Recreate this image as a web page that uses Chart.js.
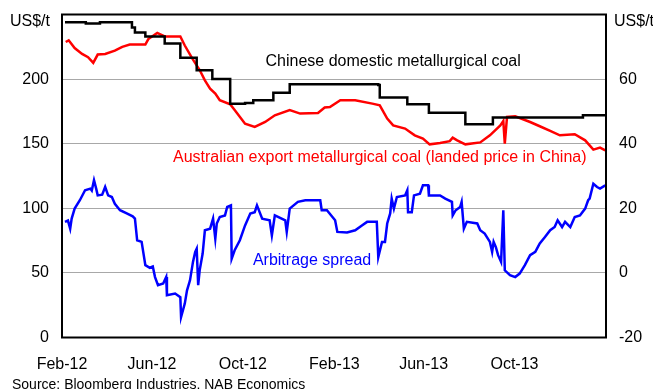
<!DOCTYPE html>
<html>
<head>
<meta charset="utf-8">
<script src="https://cdn.jsdelivr.net/npm/chart.js@4/dist/chart.umd.min.js"></script>
<style>
  html, body { margin: 0; padding: 0; background: #fff; }
  #wrap { width: 653px; height: 389px; }
</style>
</head>
<body>
<div id="wrap"><canvas id="c" width="653" height="389"></canvas></div>
<script>
// x values are days counted from 1 Feb 2012
const tickDays   = [0, 121, 243, 366, 486, 608];
const tickLabels = ['Feb-12', 'Jun-12', 'Oct-12', 'Feb-13', 'Jun-13', 'Oct-13'];

// Chinese domestic metallurgical coal, US$/t (left axis)
const chinaDays  = [4, 32, 51, 89, 94, 98, 112, 138, 159, 181, 202, 226, 246, 257, 284, 306, 425, 427, 464, 493, 542, 579, 700, 731];
const chinaPrice = [244, 243, 244, 244, 240, 236, 233, 227.5, 216.6, 206.8, 200, 181, 181.5, 183.6, 189.5, 196, 195.5, 185.7, 180.5, 174, 165, 170.3, 172, 172];

// Australian export metallurgical coal, landed price in China, US$/t (left axis)
const ausDays  = [5, 9, 17, 27, 35, 42, 48, 58, 71, 81, 91, 112, 116, 128, 138, 159, 165, 175, 185, 192, 199, 206, 212, 226, 232, 246, 259, 273, 286, 306, 320, 344, 353, 360, 374, 394, 417, 427, 437, 445, 461, 474, 485, 494, 508, 521, 525, 531, 542, 562, 575, 589, 593, 595, 598, 609, 629, 642, 656, 669, 689, 703, 714, 723, 730];
const ausPrice = [228.7, 230, 224, 219.5, 217, 212.5, 219, 219.5, 222, 225, 226.7, 226.7, 231, 235.7, 233, 233, 226, 216, 207, 199, 192.6, 188.8, 183.6, 180.5, 176, 165.5, 163, 166.8, 172, 176, 173.3, 173.8, 178, 178.4, 183.6, 183.6, 181, 179.7, 169.4, 164.2, 161.7, 156.5, 153.9, 149.5, 150.5, 152, 154.7, 152.6, 149.5, 151, 156.5, 164.2, 167.6, 150, 170.7, 171.2, 166.8, 163.5, 160, 156.5, 157.3, 152.6, 145.4, 147, 144.9];

// Arbitrage spread, US$/t (right axis)
const spreadDays = [4, 8, 11, 13, 17, 24, 31, 38, 40, 43, 46, 48, 54, 58, 62, 67, 71, 78, 87, 95, 98, 101, 107, 112, 118, 122, 125, 129, 136, 140, 141, 152, 159, 160, 165, 168, 172, 176, 179, 181, 183, 185, 189, 192, 199, 203, 206, 208, 212, 219, 222, 227, 228, 232, 239, 246, 253, 259, 262, 269, 279, 282, 286, 300, 302, 306, 317, 327, 347, 349, 356, 367, 370, 383, 394, 403, 410, 423, 425, 430, 434, 437, 441, 443, 446, 450, 461, 464, 465, 470, 473, 481, 485, 492, 493, 508, 515, 524, 525, 529, 535, 537, 540, 544, 558, 562, 568, 575, 578, 580, 583, 586, 590, 593, 595, 602, 609, 615, 622, 629, 636, 642, 649, 656, 662, 666, 672, 676, 683, 689, 696, 703, 707, 709, 714, 719, 723, 730];
const spreadVals = [15.8, 16.2, 13.7, 16.8, 19.9, 22.5, 25.6, 26.1, 25.5, 28.7, 26, 24, 24.2, 26.6, 24, 23.5, 21.4, 19.4, 18.4, 17.5, 16.8, 10.1, 9.6, 2.4, 1.6, 2, -1.3, -3.8, -3.3, -1.3, -6.9, -6.4, -7.5, -13.7, -9.5, -5.4, -2.3, 3.4, 6.5, 7.5, -3.8, 0.8, 6, 13.2, 13.7, 16.8, 10.6, 15.3, 17.3, 17.8, 20.4, 20.9, 4.4, 7, 10.1, 14.7, 18.4, 18.8, 20.9, 16.8, 16.3, 11.6, 17.8, 16.3, 12.7, 19.9, 22, 22.5, 22.5, 19.4, 19.4, 16.3, 12.7, 12.5, 13.2, 14.7, 15.8, 15.8, 4.9, 9.6, 9.6, 15.3, 18.4, 23, 19.9, 23.5, 24, 25.6, 18.8, 18.8, 24, 24.5, 27.1, 27.1, 24, 24, 23, 22, 17.8, 19.4, 20.4, 22, 13.7, 15.8, 15.3, 13.2, 12.2, 9.6, 6.5, 9.6, 8, 5.5, 3.4, 19.4, 0.8, -0.7, -1.3, -0.2, 2.4, 5.5, 6.5, 9.1, 11.1, 13.2, 14.2, 16.3, 14.2, 15.8, 14.2, 17.3, 17.8, 19.9, 22.5, 23, 27.6, 26.6, 26.1, 27.1];

const FONT = "'Liberation Sans', Arial, sans-serif";

function pairs(xs, ys) {
  return xs.map((x, i) => ({ x: x, y: ys[i] }));
}

// Fixed axis widths; no extra room reserved above/below for end labels
function fixWidth(w) {
  return function (scale) {
    scale.width = w;
    scale.paddingTop = 0;
    scale.paddingBottom = 0;
  };
}

// Frame around the plot, axis unit captions, in-chart series labels and source note
const decorations = {
  id: 'decorations',
  afterDraw(chart) {
    const ctx = chart.ctx;
    const a = chart.chartArea;
    const xs = chart.scales.x, yl = chart.scales.yL, yr = chart.scales.yR;
    ctx.save();
    ctx.strokeStyle = '#000';
    ctx.lineWidth = 2;
    ctx.strokeRect(a.left, a.top, a.right - a.left, a.bottom - a.top);

    ctx.font = '16px ' + FONT;
    ctx.textBaseline = 'middle';
    ctx.fillStyle = '#000';
    ctx.textAlign = 'right';
    ctx.fillText('US$/t', a.left - 12, a.top + 7);
    ctx.textAlign = 'left';
    ctx.fillText('US$/t', a.right + 8, a.top + 7);

    ctx.textAlign = 'center';
    ctx.fillStyle = '#000000';
    ctx.fillText('Chinese domestic metallurgical coal', xs.getPixelForValue(445), yl.getPixelForValue(213.8));
    ctx.fillStyle = '#ff0000';
    ctx.fillText('Australian export metallurgical coal (landed price in China)', xs.getPixelForValue(427), yl.getPixelForValue(139.5));
    ctx.fillStyle = '#0000ff';
    ctx.fillText('Arbitrage spread', xs.getPixelForValue(336), yr.getPixelForValue(3.9));

    ctx.fillStyle = '#000';
    ctx.font = '14px ' + FONT;
    ctx.textAlign = 'left';
    ctx.textBaseline = 'alphabetic';
    ctx.fillText('Source: Bloomberg Industries, NAB Economics', 12, 388.5);
    ctx.restore();
  }
};

new Chart(document.getElementById('c'), {
  type: 'line',
  data: {
    datasets: [
      {
        label: 'Chinese domestic metallurgical coal',
        data: pairs(chinaDays, chinaPrice),
        yAxisID: 'yL',
        borderColor: '#000000',
        borderWidth: 2.5,
        stepped: true,
        pointRadius: 0
      },
      {
        label: 'Australian export metallurgical coal (landed price in China)',
        data: pairs(ausDays, ausPrice),
        yAxisID: 'yL',
        borderColor: '#ff0000',
        borderWidth: 2.5,
        pointRadius: 0
      },
      {
        label: 'Arbitrage spread',
        data: pairs(spreadDays, spreadVals),
        yAxisID: 'yR',
        borderColor: '#0000ff',
        borderWidth: 2.5,
        pointRadius: 0
      }
    ]
  },
  options: {
    responsive: false,
    animation: false,
    devicePixelRatio: 1,
    layout: { padding: { top: 14.5, left: 0, right: 0, bottom: 0 } },
    plugins: {
      legend: { display: false },
      tooltip: { enabled: false }
    },
    scales: {
      x: {
        type: 'linear',
        min: 0,
        max: 731,
        afterBuildTicks(scale) {
          scale.ticks = tickDays.map(v => ({ value: v }));
        },
        afterFit(scale) { scale.height = 51.5; },
        ticks: {
          autoSkip: false,
          maxRotation: 0,
          padding: 17.5,
          color: '#000',
          font: { family: FONT, size: 16 },
          callback: (v) => {
            const i = tickDays.indexOf(v);
            return i >= 0 ? tickLabels[i] : '';
          }
        },
        grid: { display: false, drawTicks: false },
        border: { display: false }
      },
      yL: {
        position: 'left',
        min: 0,
        max: 250,
        afterFit: fixWidth(62),
        ticks: {
          stepSize: 50,
          padding: 13,
          color: '#000',
          font: { family: FONT, size: 16 },
          callback: (v) => (v === 250 ? '' : v)
        },
        grid: {
          drawTicks: false,
          lineWidth: 1,
          color: (c) => (c.tick.value === 0 || c.tick.value === 250 ? 'rgba(0,0,0,0)' : '#a8a8a8')
        },
        border: { display: false }
      },
      yR: {
        position: 'right',
        min: -20,
        max: 80,
        afterFit: fixWidth(47),
        ticks: {
          stepSize: 20,
          padding: 13,
          color: '#000',
          font: { family: FONT, size: 16 },
          callback: (v) => (v === 80 ? '' : v)
        },
        grid: { display: false, drawTicks: false },
        border: { display: false }
      }
    }
  },
  plugins: [decorations]
});
</script>
</body>
</html>
